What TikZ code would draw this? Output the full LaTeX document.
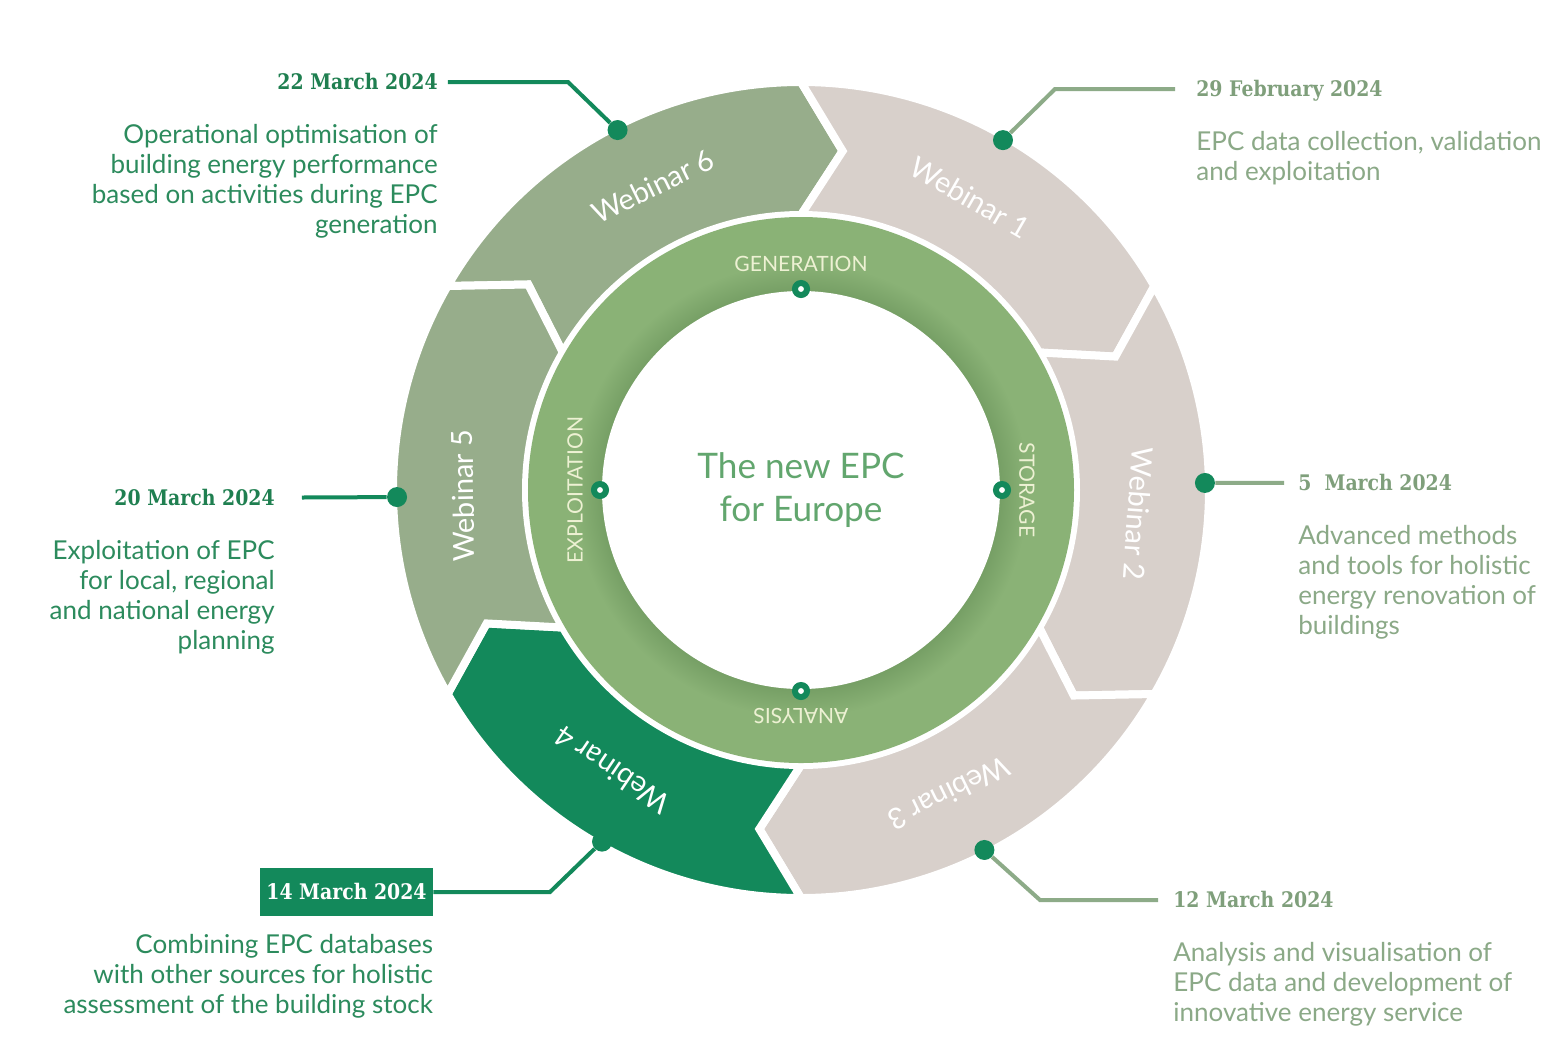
\documentclass[tikz,border=0pt]{standalone}
\usepackage{fontspec}
\setmainfont{Lato}
\newfontfamily\datefont{DejaVu Serif}[FakeStretch=0.88]
\usetikzlibrary{positioning}

\definecolor{sage}{HTML}{97AD8B}
\definecolor{beige}{HTML}{D8D0CB}
\definecolor{dkgreen}{HTML}{13895B}
\definecolor{ring}{HTML}{8AB276}
\definecolor{ringdark}{HTML}{769F65}
\definecolor{ringtext}{HTML}{EDF1D3}
\definecolor{hubtext}{HTML}{62A66E}
\definecolor{leadright}{HTML}{8DAB88}
\definecolor{dateleft}{HTML}{1F7F50}
\definecolor{dateright}{HTML}{7F9F7B}
\definecolor{descleft}{HTML}{2C8B5D}
\definecolor{descright}{HTML}{8BA987}

\pgfdeclareradialshading{ringshade}{\pgfpointorigin}{color(0bp)=(ringdark); color(18.2bp)=(ringdark); color(20.8bp)=(ring); color(50bp)=(ring)}

\begin{document}
\begin{tikzpicture}[x=0.2mm, y=0.2mm]
	\tikzset{seg/.style={draw=white, line width=1.6mm, line join=miter},
		outdot/.style={circle, fill=dkgreen, minimum size=4mm, inner sep=0pt},
		ringdot/.style={circle, draw=dkgreen, fill=white, line width=1.2mm, minimum size=2.4mm, inner sep=0pt},
		webl/.style={text=white, font=\fontsize{16.5}{20}\selectfont},
		ringl/.style={text=ringtext, font=\fontsize{12}{14}\selectfont},
		leadL/.style={dkgreen, line width=0.8mm},
		leadR/.style={leadright, line width=0.8mm},
		datetag/.style={font=\datefont\bfseries\fontsize{12.2}{15}\selectfont, inner sep=0pt, text height=8.9pt, text depth=0pt},
		desc/.style={font=\fontsize{14.8}{17.07}\selectfont, inner sep=0pt},
		descL/.style={desc, text=descleft, align=right},
		descR/.style={desc, text=descright, align=left}}

	\fill[white] (-801,490) rectangle (753,-557);
	\useasboundingbox (-801,490) rectangle (753,-557);

	\foreach \a/\c in {150/sage,90/beige,30/beige,-30/beige,-90/dkgreen,-150/sage}
		\filldraw[seg, fill=\c] (\a:408) arc[start angle=\a, end angle=\a-60, radius=408] -- (\a-67:341.5) -- (\a-60:275) arc[start angle=\a-60, end angle=\a, radius=275] -- (\a-7:341.5) -- cycle;

	\shade[shading=ringshade] (0,0) circle (273);
	\fill[white] (0,0) circle (199);

	\node[ringdot] (gdot) at (90:201) {};
	\node[ringdot] (sdot) at (0:201) {};
	\node[ringdot] (adot) at (-90:201) {};
	\node[ringdot] (edot) at (180:201) {};
	\node[ringl] (gen) at (90:226) {GENERATION};
	\node[ringl, rotate=-90] (sto) at (0:226) {STORAGE};
	\node[ringl, rotate=180] (ana) at (-90:226) {ANALYSIS};
	\node[ringl, rotate=90] (expl) at (180:226) {EXPLOITATION};
	\node[text=hubtext, font=\fontsize{20}{24.5}\selectfont, align=center] (hub) at (0,0) {The new EPC\\for Europe};

	\node[webl, rotate=26] (w6) at (116:338) {Webinar 6};
	\node[webl, rotate=-30] (w1) at (60:338) {Webinar 1};
	\node[webl, rotate=-94] (w2) at (-4:338) {Webinar 2};
	\node[webl, rotate=-154] (w3) at (-64:338) {Webinar 3};
	\node[webl, rotate=146] (w4) at (236:338) {Webinar 4};
	\node[webl, rotate=91] (w5) at (181:338) {Webinar 5};

	\node[outdot] (o6) at (117:404) {};
	\node[outdot] (o1) at (60:404) {};
	\node[outdot] (o2) at (1:404) {};
	\node[outdot] (o3) at (-63:404) {};
	\node[outdot] (o4) at (240.5:404) {};
	\node[outdot] (o5) at (181:404) {};

	\node[datetag, text=dateleft, anchor=east] (t6) at (-363,408) {22 March 2024};
	\node[datetag, text=dateright, anchor=west] (t1) at (395,401) {29 February 2024};
	\node[datetag, text=dateright, anchor=west] (t2) at (497,7) {5\ \ March 2024};
	\node[datetag, text=dateright, anchor=west] (t3) at (372,-410) {12 March 2024};
	\node[datetag, fill=dkgreen, text=white, minimum width=34.6mm, minimum height=9.6mm] (t4) at (-454.5,-402) {14 March 2024};
	\node[datetag, text=dateleft, anchor=east] (t5) at (-526,-8) {20 March 2024};

	\coordinate (k6) at (-233,408);
	\coordinate (k1) at (254,401);
	\coordinate (k3) at (239,-410);
	\coordinate (k4) at (-251,-402);

	\draw[leadL, shorten >=2mm] (o6) -- (k6) -- (t6);
	\draw[leadR, shorten >=4.2mm] (o1) -- (k1) -- (t1);
	\draw[leadR, shorten >=2.8mm] (o2) -- (t2);
	\draw[leadR, shorten >=3mm] (o3) -- (k3) -- (t3);
	\draw[leadL] (o4) -- (k4) -- (t4);
	\draw[leadL, shorten >=5.4mm] (o5) -- (t5);

	\node[descL, below=6.7mm of t6.south east, anchor=north east] (s6) {Operational optimisation of\\building energy performance\\based on activities during EPC\\generation};
	\node[descR, below=6.7mm of t1.south west, anchor=north west] (s1) {EPC data collection, validation\\and exploitation};
	\node[descR, below=6.7mm of t2.south west, anchor=north west] (s2) {Advanced methods\\and tools for holistic\\energy renovation of\\buildings};
	\node[descR, below=6.7mm of t3.south west, anchor=north west] (s3) {Analysis and visualisation of\\EPC data and development of\\innovative energy service};
	\node[descL, below=3.6mm of t4.south east, anchor=north east] (s4) {Combining EPC databases\\with other sources for holistic\\assessment of the building stock};
	\node[descL, below=6.7mm of t5.south east, anchor=north east] (s5) {Exploitation of EPC\\for local, regional\\and national energy\\planning};
\end{tikzpicture}
\end{document}
